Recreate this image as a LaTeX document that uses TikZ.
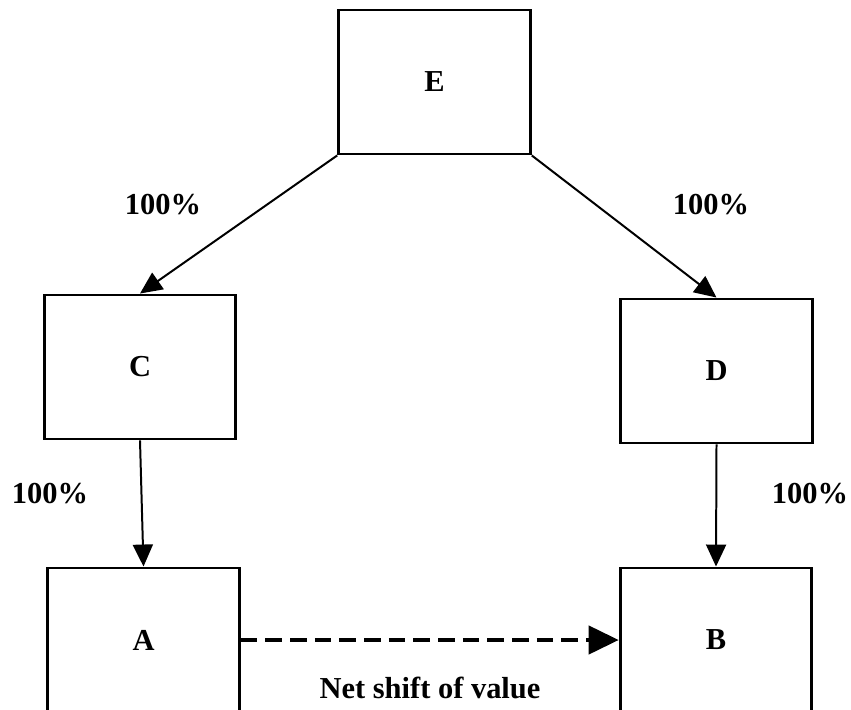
\documentclass[tikz,border=0pt]{standalone}
\usepackage{fontspec}
\setmainfont{Liberation Serif}
\usepackage{tikz}
\usetikzlibrary{arrows.meta, positioning}

\begin{document}
\begin{tikzpicture}[x=0.03cm, y=-0.03cm,
                every node/.style={font=\fontsize{26}{30}\selectfont\bfseries},
                box/.style={draw, line width=2.5pt, minimum width=5.75cm, minimum height=4.32cm,
                            inner sep=0pt},
                link/.style={line width=1.7pt, -{Triangle[length=0.66cm, width=0.6cm]}},
                netshift/.style={line width=3.6pt, dash pattern=on 0.5cm off 0.24cm,
                              -{Triangle[length=0.9cm, width=0.84cm]}},
                pct/.style={inner sep=0pt}]

                % page and cut at the bottom
                \path[use as bounding box, clip] (0,0) rectangle (851,709);

                % Boxes
                \node[box] (E) at (434.5,82) {E};
                \node[box] (C) at (140,367) {C};
                \node[box] (D) at (716.5,371) {D};
                \node[box] (A) at (143.5,640) {A};
                \node[box] (B) at (716,640) {B};

                % Holdings
                \draw[link] (E.south west) -- (C.north);
                \draw[link] (E.south east) -- (D.north);
                \draw[link] (C.south) -- (A.north);
                \draw[link] (D.south) -- (B.north);

                % Shift between A and B
                \draw[netshift] (A.east) -- (B.west);

                % Labels
                \node[pct] (pEC) at (163,205) {100\%};
                \node[pct] (pED) at (711,205) {100\%};
                \node[pct] (pCA) at (50,494) {100\%};
                \node[pct] (pDB) at (810,494) {100\%};
                \node[pct] (net) at (430,688) {Net shift of value};
\end{tikzpicture}
\end{document}
